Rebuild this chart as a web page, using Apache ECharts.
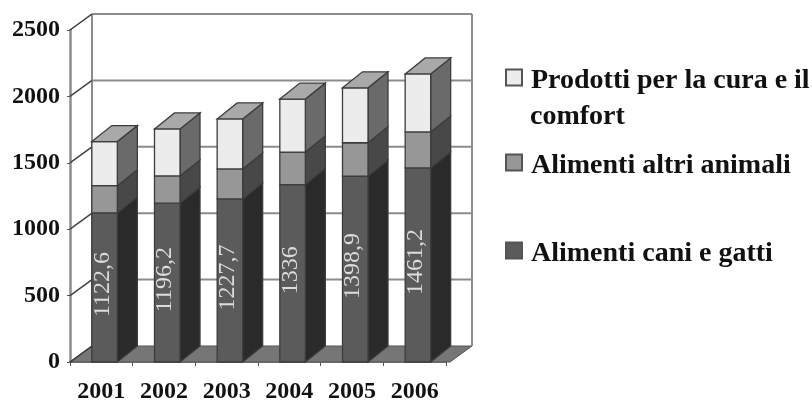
<!DOCTYPE html>
<html>
<head>
<meta charset="utf-8">
<title>Chart</title>
<style>
	html, body { margin: 0; padding: 0; background: #fff; }
	#main { width: 812px; height: 401px; }
</style>
<script src="https://cdn.jsdelivr.net/npm/echarts@6/dist/echarts.min.js"></script>
</head>
<body>
<div id="main"></div>
<script>
var years = ['2001', '2002', '2003', '2004', '2005', '2006'];
var yTicks = [0, 500, 1000, 1500, 2000, 2500];
var caniGatti = [1122.6, 1196.2, 1227.7, 1336, 1398.9, 1461.2];
var altriAnimali = [205, 205, 226, 245, 252, 271];
var curaComfort = [332, 354, 377, 399, 414, 437];
var nameCani = 'Alimenti cani e gatti';
var nameAltri = 'Alimenti altri animali';
var nameCura = 'Prodotti per la cura e il comfort';

var SERIF = '"Liberation Serif", serif';
var DX = 21, DY = -16;		// profondita' 3D
var lineGray = '#8c8c8c', edge = '#3c3c3c';

// pareti e pavimento
function renderWalls(params, api) {
	var value = api.value(0);
	var band = api.size([1, 0])[0];
	var first = api.coord([0, value]);
	var last = api.coord([years.length - 1, value]);
	var x0 = first[0] - band / 2, x1 = last[0] + band / 2, y = first[1];
	var children = [];
	if (value === 0) {
		var top = api.coord([0, 2500])[1];
		children.push({ type: 'polygon', shape: { points: [[x0, y], [x0 + DX + 1, y + DY], [x1 + DX + 5, y + DY], [x1 + 4, y]] },
			style: { fill: '#767676', stroke: '#555', lineWidth: 1 } });
		children.push({ type: 'line', shape: { x1: x0 + DX + 1, y1: top + DY, x2: x0 + DX + 1, y2: y + DY }, style: { stroke: lineGray, lineWidth: 2 } });
		children.push({ type: 'line', shape: { x1: x1 + DX + 5, y1: top + DY, x2: x1 + DX + 5, y2: y + DY }, style: { stroke: lineGray, lineWidth: 2 } });
	} else {
		children.push({ type: 'line', shape: { x1: x0 + DX + 1, y1: y + DY, x2: x1 + DX + 5, y2: y + DY }, style: { stroke: lineGray, lineWidth: 2 } });
	}
	children.push({ type: 'line', shape: { x1: x0, y1: y, x2: x0 + DX + 1, y2: y + DY }, style: { stroke: value === 0 || value === 2500 ? '#333' : '#444', lineWidth: 1.5 } });
	return { type: 'group', children: children };
}

// un segmento di barra 3D
function makeBar(front, side, isTop, labelOn) {
	return function(params, api) {
		var idx = api.value(0);
		var low = api.coord([idx, api.value(1)]);
		var high = api.coord([idx, api.value(2)]);
		var x0 = low[0] - 9.5, x1 = low[0] + 16;
		var y0 = low[1], y1 = high[1];
		var children = [
			{ type: 'polygon', shape: { points: [[x1, y0], [x1 + DX - 1, y0 + DY], [x1 + DX - 1, y1 + DY], [x1, y1]] },
				style: { fill: side, stroke: edge, lineWidth: 1.3 } },
			{ type: 'rect', shape: { x: x0, y: y1, width: x1 - x0, height: y0 - y1 },
				style: { fill: front, stroke: edge, lineWidth: 1.3 } }
		];
		if (isTop) {
			children.push({ type: 'polygon', shape: { points: [[x0, y1], [x0 + DX - 1, y1 + DY], [x1 + DX - 1, y1 + DY], [x1, y1]] },
				style: { fill: '#a9a9a9', stroke: edge, lineWidth: 1.3 } });
		}
		if (labelOn) {
			children.push({ type: 'text', x: low[0] + 1, y: (y0 + y1) / 2 - 3, rotation: Math.PI / 2,
				style: { text: String(api.value(2)).replace('.', ','), fill: '#dcdcdc', align: 'center', verticalAlign: 'middle', font: '24px ' + SERIF } });
		}
		return { type: 'group', children: children };
	};
}

var dataCani = [], dataAltri = [], dataCura = [];
years.forEach(function(y, i) {
	var a = caniGatti[i], b = a + altriAnimali[i], c = b + curaComfort[i];
	dataCani.push([i, 0, a]);
	dataAltri.push([i, a, b]);
	dataCura.push([i, b, c]);
});

function barSeries(name, data, front, side, isTop, labelOn) {
	return {
		type: 'custom', name: name, data: data, z: 3, clip: false,
		encode: { x: 0, y: [1, 2] },
		itemStyle: { color: front, borderColor: '#555', borderWidth: 1 },
		renderItem: makeBar(front, side, isTop, labelOn)
	};
}

function legendAt(name, top, label) {
	return {
		data: [name], left: 505, top: top, icon: 'rect', itemWidth: 16, itemHeight: 16,
		selectedMode: false, padding: 0,
		formatter: function() { return '{t|' + label + '}'; },
		textStyle: {
			rich: { t: { fontFamily: SERIF, fontWeight: 'bold', fontSize: 28, color: '#111', padding: [7, 0, 0, 4] } }
		}
	};
}

var myChart = echarts.init(document.getElementById('main'), null, { renderer: 'canvas' });
myChart.setOption({
	animation: false,
	backgroundColor: '#fff',
	grid: { left: 70, top: 30, width: 376, height: 332, outerBoundsMode: 'none' },
	xAxis: {
		type: 'category', data: years,
		axisLine: { lineStyle: { color: '#555', width: 1.5 } },
		axisTick: { show: true, length: 4, alignWithLabel: false, lineStyle: { color: '#555' } },
		axisLabel: { fontFamily: SERIF, fontWeight: 'bold', fontSize: 24, color: '#111', margin: 18, interval: 0 }
	},
	yAxis: {
		type: 'value', min: 0, max: 2500, interval: 500,
		axisLine: { show: true, lineStyle: { color: lineGray, width: 2.5 } },
		axisTick: { show: true, length: 3, lineStyle: { color: '#555' } },
		splitLine: { show: false },
		axisLabel: { fontFamily: SERIF, fontWeight: 'bold', fontSize: 24, color: '#111', margin: 10, formatter: function(v) { return String(v); } }
	},
	legend: [
		legendAt(nameCura, 67, 'Prodotti per la cura e il'),
		legendAt(nameAltri, 152, nameAltri),
		legendAt(nameCani, 240, nameCani)
	],
	graphic: [{
		type: 'text', left: 530, top: 103,
		style: { text: 'comfort', fill: '#111', font: 'bold 28px ' + SERIF }
	}],
	series: [
		{
			type: 'custom', name: 'pareti', z: 1, clip: false, silent: true,
			data: yTicks.map(function(t) { return [t]; }),
			encode: { y: 0 },
			renderItem: renderWalls
		},
		barSeries(nameCani, dataCani, '#5b5b5b', '#2a2a2a', false, true),
		barSeries(nameAltri, dataAltri, '#979797', '#484848', false, false),
		barSeries(nameCura, dataCura, '#ececec', '#6a6a6a', true, false)
	]
});
</script>
</body>
</html>
